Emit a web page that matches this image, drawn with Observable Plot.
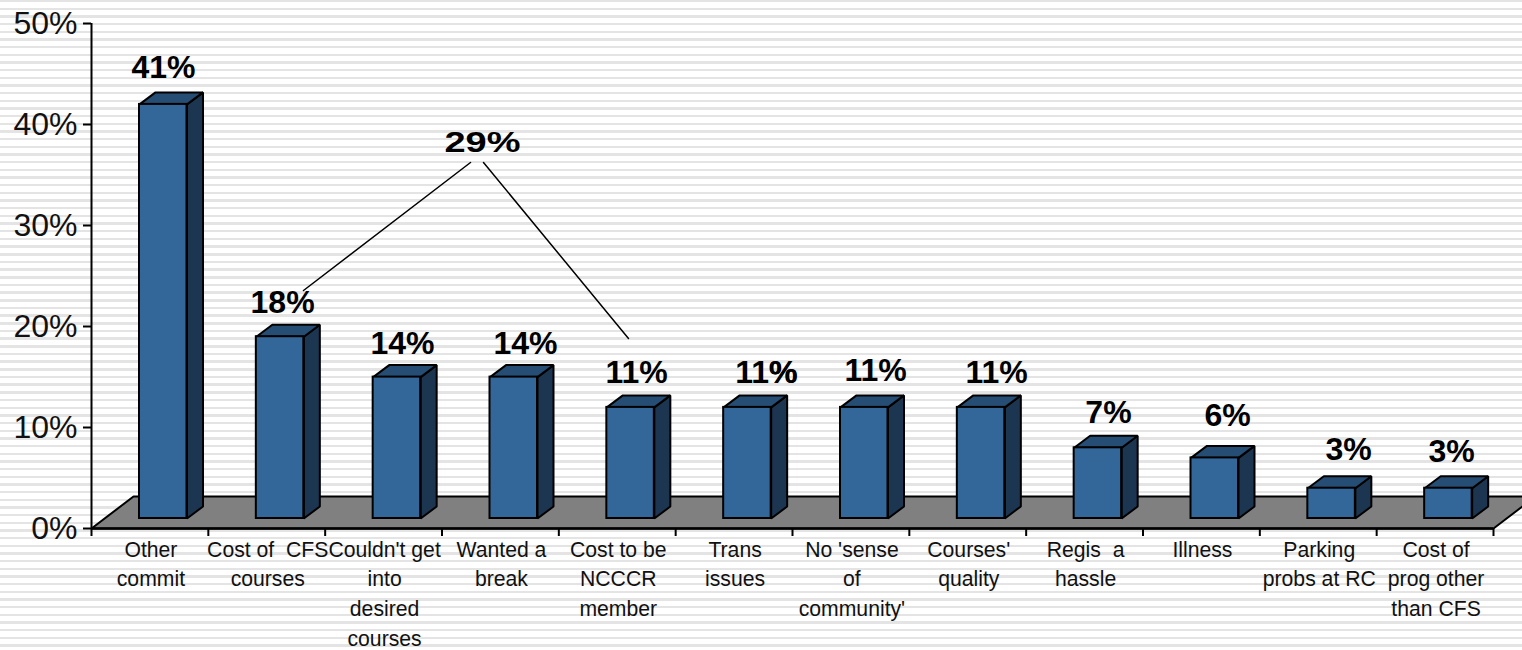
<!DOCTYPE html>
<html>
<head>
<meta charset="utf-8">
<script src="https://cdn.jsdelivr.net/npm/d3@7"></script>
<script src="https://cdn.jsdelivr.net/npm/@observablehq/plot@0.6"></script>
<style>
html,body{margin:0;padding:0;width:1522px;height:650px;overflow:hidden;
background:repeating-linear-gradient(to bottom,#e4e4e4 0,#e4e4e4 2.4px,#fff 2.4px,#fff 7.67px);}
svg{display:block}
</style>
</head>
<body>
<div id="chart"></div>
<script>
const categories = ["Other\ncommit","Cost of  CFS\ncourses","Couldn't get\ninto\ndesired\ncourses","Wanted a\nbreak","Cost to be\nNCCCR\nmember","Trans\nissues","No 'sense\nof\ncommunity'","Courses'\nquality","Regis  a\nhassle","Illness","Parking\nprobs at RC","Cost of\nprog other\nthan CFS"];
const values = [41,18,14,14,11,11,11,11,7,6,3,3];
const yTicks = [0,10,20,30,40,50];
const bracketTotal = "29%";

// layout (pixels), kept apart from the data
const pxX = 1402/12, pxY = 505/50;
const barLeft = 48/pxX, barRight = 95.5/pxX;
const depthX = 16/pxX, depthY = 12/pxY;
const floorX = 42/pxX, floorY = 32/pxY;
const labelNudgeX = [13.6,15.8,18.9,25.1,19.3,32.4,24.6,28.8,23.9,26.1,30.3,16.5];
const labelGap = [26,24,23,23,24,24,26,24,25,32,28,26];

const bars = values.map((v,i)=>({i,v,cat:categories[i],l:i+barLeft,r:i+barRight}));
const poly = (id,pts)=>pts.concat([pts[0]]).map(([x,y])=>({id,x,y}));
const sides = bars.flatMap(b=>poly(b.i,[[b.r,b.v],[b.r+depthX,b.v+depthY],[b.r+depthX,depthY],[b.r,0]]));
const tops = bars.flatMap(b=>poly(b.i,[[b.l,b.v],[b.l+depthX,b.v+depthY],[b.r+depthX,b.v+depthY],[b.r,b.v]]));
const floor = poly("f",[[0,0],[floorX,floorY],[12+floorX,floorY],[12,0]]);
const bracket = [
  {id:"a",x:(303-91)/pxX,y:(528-290)/pxY},{id:"a",x:(470-91)/pxX,y:(528-162)/pxY},
  {id:"b",x:(483-91)/pxX,y:(528-162)/pxY},{id:"b",x:(628-91)/pxX,y:(528-338)/pxY}
];
const labels = bars.map((b,i)=>({t:b.v+"%",x:i+0.5+labelNudgeX[i]/pxX,y:b.v+labelGap[i]/pxY}));
const edge = {stroke:"#000",strokeWidth:2,strokeLinejoin:"miter"};

const stretch = (len)=>(index,scales,vals,dim,ctx,next)=>{
  const g = next(index,scales,vals,dim,ctx);
  g.querySelectorAll("text").forEach(t=>{t.setAttribute("textLength",len);t.setAttribute("lengthAdjust","spacingAndGlyphs");});
  return g;
};

const chart = Plot.plot({
  width:1522,height:650,
  marginLeft:91,marginRight:29,marginTop:23,marginBottom:122,
  style:{background:"transparent",fontFamily:"'Liberation Sans',Arial,sans-serif",color:"#000"},
  x:{type:"linear",domain:[0,12],axis:null},
  y:{domain:[0,50],axis:null},
  marks:[
    Plot.line(floor,{x:"x",y:"y",z:"id",fill:"#808080",...edge}),
    Plot.line(sides,{x:"x",y:"y",z:"id",fill:"#1c3550",dy:-10,...edge}),
    Plot.line(tops,{x:"x",y:"y",z:"id",fill:"#264d73",dy:-10,...edge}),
    Plot.rect(bars,{x1:"l",x2:"r",y1:0,y2:"v",fill:"#336699",dy:-10,...edge}),
    Plot.axisY({ticks:yTicks,tickFormat:d=>d+"%",tickSize:8,tickPadding:6,fontSize:32,label:null,strokeWidth:2,fill:"#111"}),
    Plot.axisX({ticks:d3.range(13),tickFormat:()=>"",tickSize:8,label:null,strokeWidth:2}),
    Plot.ruleX([0],{y1:0,y2:50,strokeWidth:2,stroke:"#000"}),
    Plot.ruleY([0],{x1:0,x2:12,strokeWidth:2.5,stroke:"#000"}),
    Plot.line(bracket,{x:"x",y:"y",z:"id",stroke:"#000",strokeWidth:1.5}),
    Plot.text(bars,{x:d=>d.i+0.5+1/pxX,y:0,text:"cat",dy:7,lineAnchor:"top",lineHeight:1.4,fontSize:21.2,fill:"#111"}),
    Plot.text(labels,{x:"x",y:"y",text:"t",dy:-10,lineAnchor:"bottom",fontSize:32,fontWeight:"bold",fill:"#000"}),
    Plot.text(["%"],{x:()=>5+0.5+(49)/pxX,y:()=>11+24/pxY,text:d=>d,dy:-10,lineAnchor:"bottom",fontSize:32,fontWeight:"bold",fill:"#000"}),
    Plot.text([bracketTotal],{x:()=>(482-91)/pxX,y:()=>(528-151)/pxY,text:d=>d,lineAnchor:"bottom",fontSize:30,fontWeight:"bold",fill:"#000",render:stretch(76)})
  ]
});
document.getElementById("chart").append(chart);
</script>
</body>
</html>
